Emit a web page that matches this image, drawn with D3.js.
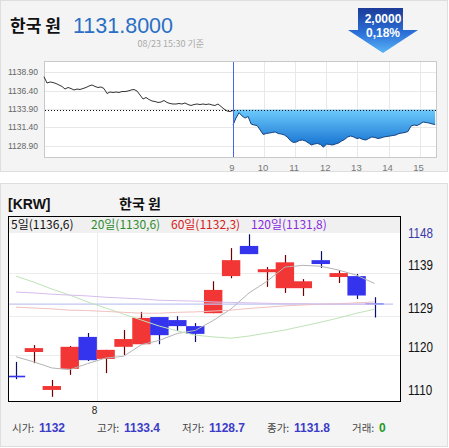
<!DOCTYPE html>
<html>
<head>
<meta charset="utf-8">
<script src="https://cdn.jsdelivr.net/npm/d3@7"></script>
<style>
body { margin: 0; background: #fff; }
svg { display: block; font-family: "Liberation Sans", Arial, sans-serif; }
.kr { font-family: "Noto Sans CJK KR", "Noto Sans", sans-serif; }
</style>
</head>
<body>
<div id="chart"></div>
<script>
// --- header quote ---
const currencyName = "한국 원";
const lastPrice = 1131.8;
const priceChange = -2.0;
const changePct = -0.18;
const stampText = "08/23 15:30 기준";

// --- intraday (top chart) ---
const prevClose = 1133.8;
const topTicks = [1138.9, 1136.4, 1133.9, 1131.4, 1128.9];
const hourTicks = [9, 10, 11, 12, 13, 14, 15];
const sessionHours = [9, 15.5];
// previous session, read left to right
const prevDay = [1138.30, 1137.44, 1137.58, 1137.51, 1137.37, 1137.17, 1136.97, 1136.62, 1136.83, 1136.69,
  1136.49, 1136.62, 1136.56, 1136.69, 1136.83, 1137.03, 1137.17, 1136.97, 1136.83, 1136.90,
  1136.69, 1136.01, 1136.22, 1136.15, 1136.22, 1136.15, 1136.28, 1136.28, 1136.35, 1136.49,
  1136.56, 1136.35, 1135.81, 1135.26, 1135.47, 1135.19, 1134.99, 1134.92, 1134.79, 1134.85,
  1135.06, 1134.79, 1134.65, 1134.58, 1134.58, 1134.65, 1134.58, 1134.72, 1134.51, 1134.38,
  1134.51, 1134.58, 1134.51, 1134.58, 1134.51, 1134.58, 1134.45, 1134.38, 1134.58, 1134.24,
  1133.90, 1133.63, 1133.55, 1133.70];
// today 09:00 - 15:30
const today = [1131.72, 1132.67, 1133.40, 1132.95, 1132.67, 1132.88, 1131.86, 1131.72, 1131.65, 1131.04,
  1130.43, 1130.56, 1130.63, 1130.70, 1130.77, 1130.56, 1130.49, 1130.36, 1130.09, 1129.61,
  1129.34, 1129.40, 1129.61, 1129.68, 1129.54, 1129.27, 1129.00, 1129.13, 1129.20, 1129.06,
  1128.70, 1129.13, 1129.06, 1129.00, 1129.13, 1129.27, 1129.54, 1129.75, 1130.09, 1130.22,
  1130.09, 1129.88, 1129.95, 1129.75, 1129.68, 1129.88, 1130.09, 1130.02, 1129.88, 1129.95,
  1130.09, 1130.15, 1130.22, 1130.29, 1130.36, 1130.56, 1130.63, 1130.70, 1130.84, 1131.58,
  1131.72, 1131.65, 1131.86, 1132.13, 1132.06, 1131.99, 1131.86, 1131.80];

// --- daily candles (bottom chart) ---
const dates = ["07/25", "07/26", "07/29", "07/30", "07/31", "08/01", "08/02", "08/05", "08/06", "08/07",
  "08/08", "08/09", "08/12", "08/13", "08/14", "08/16", "08/19", "08/20", "08/21", "08/22", "08/23"];
const opens  = [1115.2, 1120.7, 1111.9, 1116.8, 1124.2, 1119.1, 1121.9, 1122.5, 1128.8, 1128.1,
  1126.7, 1129.7, 1138.3, 1145.3, 1139.2, 1135.5, 1135.5, 1142.0, 1138.1, 1138.3, 1132.0];
const highs  = [1118.4, 1122.3, 1114.2, 1122.1, 1125.1, 1121.2, 1125.8, 1130.0, 1128.8, 1129.0,
  1127.4, 1137.1, 1144.8, 1148.0, 1140.4, 1143.2, 1137.6, 1144.1, 1139.7, 1138.8, 1133.4];
const lows   = [1114.4, 1118.1, 1110.3, 1115.4, 1118.6, 1115.8, 1120.0, 1122.5, 1122.5, 1125.6,
  1123.0, 1129.7, 1137.8, 1143.4, 1135.8, 1134.4, 1133.7, 1140.2, 1136.7, 1133.0, 1128.7];
const closes = [1115.0, 1121.6, 1112.8, 1121.9, 1118.8, 1121.2, 1123.7, 1128.6, 1124.6, 1126.7,
  1124.9, 1135.1, 1142.0, 1143.4, 1139.9, 1141.5, 1137.1, 1141.1, 1139.0, 1133.8, 1131.8];
const ma5   = [1119.6, 1118.4, 1117.0, 1116.6, 1118.0, 1119.3, 1119.7, 1122.4, 1123.4, 1125.0,
  1125.7, 1128.0, 1130.7, 1134.4, 1137.1, 1140.4, 1140.8, 1140.6, 1139.7, 1138.5, 1136.6];
const ma20  = [1138.3, 1136.9, 1135.3, 1133.9, 1132.3, 1130.9, 1129.5, 1128.1, 1126.7, 1125.6,
  1124.6, 1124.2, 1123.9, 1124.4, 1125.1, 1125.8, 1126.7, 1127.6, 1128.6, 1129.7, 1130.6];
const ma60  = [1131.1, 1130.9, 1130.7, 1130.4, 1130.3, 1130.1, 1129.9, 1129.7, 1129.7, 1129.9,
  1130.0, 1130.2, 1130.4, 1130.8, 1131.1, 1131.4, 1131.6, 1131.8, 1131.9, 1132.1, 1132.3];
const ma120 = [1134.6, 1134.4, 1134.1, 1133.9, 1133.7, 1133.4, 1133.2, 1133.0, 1132.7, 1132.6,
  1132.5, 1132.3, 1132.2, 1132.1, 1132.0, 1131.9, 1131.9, 1131.8, 1131.8, 1131.8, 1131.8];
const maNames = ["5일", "20일", "60일", "120일"];
const dailyTicks = [1110, 1120, 1129, 1139, 1148];

// --- summary row ---
const statNames = ["시가", "고가", "저가", "종가", "거래"];
const statValues = ["1132", "1133.4", "1128.7", "1131.8", "0"];

const W = 449, H = 448;
const svg = d3.select("#chart").append("svg").attr("width", W).attr("height", H);

// Hintergrund-Panels
svg.append("rect").attr("x", 0.5).attr("y", 0.5).attr("width", 447).attr("height", 171)
  .attr("fill", "#f4f4f4").attr("stroke", "#dedede");
svg.append("rect").attr("x", 0.5).attr("y", 183.5).attr("width", 447).attr("height", 263)
  .attr("fill", "#f4f4f4").attr("stroke", "#dedede");

// --- Kopfzeile ---
svg.append("text").attr("class", "kr").attr("x", 10).attr("y", 32)
  .attr("font-size", 17).attr("font-weight", "bold").attr("fill", "#111").text(currencyName);
svg.append("text").attr("x", 73).attr("y", 33).attr("font-size", 21.5).attr("fill", "#2a6fc6")
  .text(lastPrice.toFixed(4));
svg.append("text").attr("class", "kr").attr("x", 204).attr("y", 47).attr("text-anchor", "end")
  .attr("font-size", 9).attr("fill", "#aaa").text(stampText);

// Pfeil (Veränderung)
const defs = svg.append("defs");
const arrowGrad = defs.append("linearGradient").attr("id", "arrowGrad")
  .attr("x1", 0).attr("y1", 0).attr("x2", 0).attr("y2", 1);
arrowGrad.append("stop").attr("offset", "0%").attr("stop-color", "#1c3b98");
arrowGrad.append("stop").attr("offset", "55%").attr("stop-color", "#2a6fd8");
arrowGrad.append("stop").attr("offset", "100%").attr("stop-color", "#5ab4f6");
svg.append("path").attr("d", "M358,8H403V30H418L383,53L348,30H358Z").attr("fill", "url(#arrowGrad)");
svg.append("text").attr("x", 383).attr("y", 23).attr("text-anchor", "middle").attr("font-size", 12)
  .attr("font-weight", "bold").attr("fill", "#fff").text(Math.abs(priceChange).toFixed(4).replace(".", ","));
svg.append("text").attr("x", 383).attr("y", 36.5).attr("text-anchor", "middle").attr("font-size", 12)
  .attr("font-weight", "bold").attr("fill", "#fff").text(Math.abs(changePct).toFixed(2).replace(".", ",") + "%");

// --- 1. INTRADAY CHART ---
const tp = { left: 44, right: 436, top: 61, bottom: 157 };
const xT = d3.scaleLinear().domain([9, 15]).range([233, 419.6]);
const yT = d3.scaleLinear().domain([1128.9, 1138.9]).range([145.7, 72.3]);

svg.append("rect").attr("x", tp.left + 0.5).attr("y", tp.top + 0.5)
  .attr("width", tp.right - tp.left).attr("height", tp.bottom - tp.top)
  .attr("fill", "#fff").attr("stroke", "#c9c9c9");

svg.append("g").selectAll("line").data(topTicks).join("line")
  .attr("x1", tp.left + 1).attr("x2", tp.right)
  .attr("y1", d => Math.round(yT(d)) + 0.5).attr("y2", d => Math.round(yT(d)) + 0.5)
  .attr("stroke", "#e8e8e8");
svg.append("g").selectAll("line").data(hourTicks.slice(1)).join("line")
  .attr("x1", d => Math.round(xT(d)) + 0.5).attr("x2", d => Math.round(xT(d)) + 0.5)
  .attr("y1", tp.top + 1).attr("y2", tp.bottom)
  .attr("stroke", "#e8e8e8");

svg.append("g").selectAll("text").data(topTicks).join("text")
  .attr("x", 38).attr("y", d => yT(d)).attr("dy", "0.35em").attr("text-anchor", "end")
  .attr("font-size", 8.5).attr("fill", "#666").text(d3.format(".2f"));
svg.append("g").selectAll("text").data(hourTicks).join("text")
  .attr("x", d => xT(d) - 1).attr("y", 171).attr("text-anchor", "middle")
  .attr("font-size", 9.5).attr("fill", "#777").text(d => d);

const prevStart = xT.invert(tp.left);
const prevPts = prevDay.map((v, i) => [prevStart + (sessionHours[0] - prevStart) * i / (prevDay.length - 1), v]);
const todayPts = today.map((v, i) => [sessionHours[0] + (sessionHours[1] - sessionHours[0]) * i / (today.length - 1), v]);

const fillGrad = defs.append("linearGradient").attr("id", "fillGrad").attr("gradientUnits", "userSpaceOnUse")
  .attr("x1", 0).attr("y1", yT(prevClose)).attr("x2", 0).attr("y2", yT(d3.min(today)));
fillGrad.append("stop").attr("offset", "0%").attr("stop-color", "#6ccafc");
fillGrad.append("stop").attr("offset", "100%").attr("stop-color", "#1470d0");

const areaT = d3.area().x(d => xT(d[0])).y0(yT(prevClose)).y1(d => yT(d[1]));
const lineT = d3.line().x(d => xT(d[0])).y(d => yT(d[1]));

svg.append("path").datum(todayPts).attr("d", areaT).attr("fill", "url(#fillGrad)");
svg.append("path").datum(prevPts).attr("d", lineT).attr("fill", "none").attr("stroke", "#333").attr("stroke-width", 1);
svg.append("path").datum(todayPts).attr("d", lineT).attr("fill", "none").attr("stroke", "#17427e").attr("stroke-width", 1);

svg.append("line").attr("x1", tp.left + 1).attr("x2", tp.right)
  .attr("y1", Math.round(yT(prevClose)) + 0.5).attr("y2", Math.round(yT(prevClose)) + 0.5)
  .attr("stroke", "#111").attr("stroke-dasharray", "1,2");
svg.append("line").attr("x1", Math.round(xT(9)) + 0.5).attr("x2", Math.round(xT(9)) + 0.5)
  .attr("y1", tp.top + 1).attr("y2", tp.bottom).attr("stroke", "#4466ee");

// --- 2. TAGESCHART (Kerzen) ---
const bp = { left: 8, right: 401, top: 216, bottom: 402, legend: 17 };
const xB = d3.scaleBand().domain(dates).range([7, 383.5]).padding(0);
const yB = d3.scaleLinear().domain([1109.1, 1148.3]).range([402, bp.top + bp.legend]);
const cx = d => xB(d) + xB.bandwidth() / 2;

svg.append("text").attr("x", 8).attr("y", 209).attr("font-size", 14).attr("font-weight", "bold")
  .attr("fill", "#111").text("[KRW]");
svg.append("text").attr("class", "kr").attr("x", 140).attr("y", 209).attr("text-anchor", "middle")
  .attr("font-size", 14).attr("font-weight", "bold").attr("fill", "#111").text(currencyName);

svg.append("rect").attr("x", bp.left).attr("y", bp.top).attr("width", bp.right - bp.left)
  .attr("height", bp.bottom - bp.top).attr("fill", "#fff");
svg.append("rect").attr("x", bp.left).attr("y", bp.top).attr("width", bp.right - bp.left)
  .attr("height", bp.legend).attr("fill", "#f0f0f0");

// Gitterlinien
svg.append("g").selectAll("line").data(dailyTicks.slice(1, -1)).join("line")
  .attr("x1", bp.left).attr("x2", bp.right)
  .attr("y1", d => Math.round(yB(d)) + 0.5).attr("y2", d => Math.round(yB(d)) + 0.5)
  .attr("stroke", "#ececec");
const monthStarts = dates.filter((d, i) => i > 0 && d.slice(0, 2) !== dates[i - 1].slice(0, 2));
svg.append("g").selectAll("line").data(monthStarts).join("line")
  .attr("x1", d => Math.round(xB(d)) + 0.5).attr("x2", d => Math.round(xB(d)) + 0.5)
  .attr("y1", bp.top + bp.legend).attr("y2", bp.bottom).attr("stroke", "#ececec");
svg.append("g").selectAll("text").data(monthStarts).join("text")
  .attr("x", d => xB(d) - 2).attr("y", 414).attr("text-anchor", "middle")
  .attr("font-size", 10).attr("fill", "#222").text(d => +d.slice(0, 2));

defs.append("clipPath").attr("id", "clipB").append("rect")
  .attr("x", bp.left).attr("y", bp.top + bp.legend)
  .attr("width", bp.right - bp.left).attr("height", bp.bottom - bp.top - bp.legend);
const plotB = svg.append("g").attr("clip-path", "url(#clipB)");

const candles = dates.map((d, i) => ({ date: d, o: opens[i], h: highs[i], l: lows[i], c: closes[i] }));
const isUp = d => d.c >= d.o;

plotB.append("g").selectAll("line").data(candles).join("line")
  .attr("x1", d => Math.round(cx(d.date)) + 0.5).attr("x2", d => Math.round(cx(d.date)) + 0.5)
  .attr("y1", d => yB(d.h)).attr("y2", d => yB(d.l))
  .attr("stroke", d => isUp(d) ? "#6e0000" : "#0c0c6a").attr("stroke-width", 1.2);
plotB.append("g").selectAll("rect").data(candles).join("rect")
  .attr("x", d => cx(d.date) - 9.2).attr("width", 18.4)
  .attr("y", d => yB(Math.max(d.o, d.c)))
  .attr("height", d => Math.max(1.6, Math.abs(yB(d.o) - yB(d.c))))
  .attr("fill", d => isUp(d) ? "#f23535" : "#3434ee");

// Gleitende Durchschnitte + aktueller Kurs
const maLine = d3.line().x((d, i) => cx(dates[i])).y(d => yB(d));
const maSeries = [
  { values: ma5, color: "#b4b4b4", text: "#111" },
  { values: ma20, color: "#bfe3b6", text: "#2e8b2e" },
  { values: ma60, color: "#f1c0c0", text: "#d42020" },
  { values: ma120, color: "#d6bdec", text: "#8a2be2" }
];
plotB.append("line").attr("x1", bp.left).attr("x2", 393)
  .attr("y1", yB(lastPrice)).attr("y2", yB(lastPrice))
  .attr("stroke", "#c2c6f2").attr("stroke-width", 1.3);
plotB.append("g").selectAll("path").data(maSeries).join("path")
  .attr("d", d => maLine(d.values)).attr("fill", "none")
  .attr("stroke", d => d.color).attr("stroke-width", 1);

// Legende
svg.append("g").selectAll("text").data(maSeries).join("text")
  .attr("class", "kr").attr("x", (d, i) => 11 + i * 80).attr("y", 229)
  .attr("font-size", 12).attr("fill", d => d.text)
  .text((d, i) => `${maNames[i]}(${d.values[d.values.length - 1].toFixed(1).replace(".", ",")})`);

// Rahmen
svg.append("rect").attr("x", bp.left + 0.5).attr("y", bp.top + 0.5)
  .attr("width", bp.right - bp.left - 1).attr("height", bp.bottom - bp.top - 1)
  .attr("fill", "none").attr("stroke", "#000");

// Y-Achse rechts (schmal gestaucht)
svg.append("g").selectAll("text").data(dailyTicks).join("text")
  .attr("transform", d => `translate(408,${Math.min(397, Math.max(238, yB(d) - 3))}) scale(0.83,1)`)
  .attr("font-size", 14)
  .attr("fill", (d, i) => i === dailyTicks.length - 1 ? "#3a3aa6" : "#111")
  .text(d => d);

// --- Kennzahlen ---
const stats = svg.append("g");
statNames.forEach((name, i) => {
  const x0 = 12 + i * 85;
  stats.append("text").attr("class", "kr").attr("x", x0).attr("y", 432)
    .attr("font-size", 10.5).attr("fill", "#444").text(name + ":");
  stats.append("text").attr("x", x0 + 27).attr("y", 432).attr("font-size", 12).attr("font-weight", "bold")
    .attr("fill", i === statNames.length - 1 ? "#1f9a1f" : "#3c3cc8").text(statValues[i]);
});
</script>
</body>
</html>
